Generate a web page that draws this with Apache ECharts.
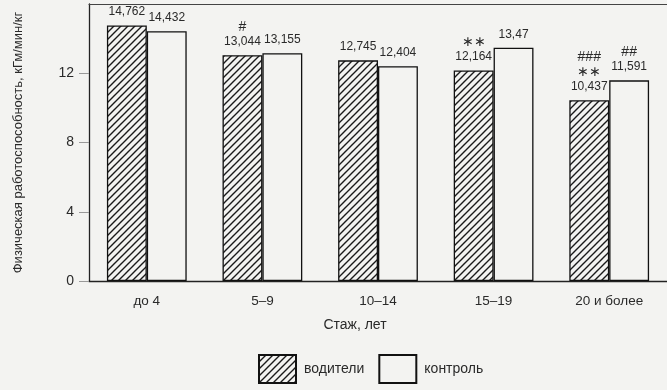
<!DOCTYPE html>
<html><head><meta charset="utf-8">
<script src="https://cdn.jsdelivr.net/npm/echarts@6/dist/echarts.min.js"></script>
<style>html,body{margin:0;padding:0;background:#f3f3f1}#c{width:667px;height:390px}</style>
</head><body><div id="c"></div>
<script>
const categories = ['до 4', '5–9', '10–14', '15–19', '20 и более'];
const drivers = [14.762, 13.044, 12.745, 12.164, 10.437];
const control = [14.432, 13.155, 12.404, 13.47, 11.591];
const driverMarks = [[], ['#'], [], ['∗∗'], ['###', '∗∗']];
const controlMarks = [[], [], [], [], ['##']];
const yTicks = [0, 4, 8, 12, 16];
const seriesNames = ['водители', 'контроль'];

const BG = '#f3f3f1';
const FONT = '"Liberation Sans Narrow", "Arial Narrow", "Liberation Sans", sans-serif';

function hatch() {
  const s = 7;
  const c = document.createElement('canvas');
  c.width = s; c.height = s;
  const g = c.getContext('2d');
  g.fillStyle = BG; g.fillRect(0, 0, s, s);
  g.strokeStyle = '#1a1a1a'; g.lineWidth = 1.4;
  g.beginPath();
  g.moveTo(-1, s + 1); g.lineTo(s + 1, -1);
  g.moveTo(-1 - s, s + 1); g.lineTo(1, -1);
  g.moveTo(s - 1, s + 1); g.lineTo(2 * s + 1, -1);
  g.stroke();
  return c;
}

function fmt(v) { return String(v).replace('.', ','); }
function labelText(marks, v) {
  return marks.map(m => '{m|' + m + '}').concat([fmt(v)]).join('\n');
}

const chart = echarts.init(document.getElementById('c'), null, {renderer: 'canvas'});
const labelCommon = {
  show: true, position: 'top', distance: 6, color: '#2a2a2a',
  fontFamily: FONT, fontSize: 12, lineHeight: 15, align: 'center',
  rich: {m: {fontFamily: FONT, fontSize: 14, lineHeight: 15, color: '#2a2a2a'}}
};
chart.setOption({
  backgroundColor: BG,
  animation: false,
  grid: {left: 89, right: 0, top: 4, bottom: 109},
  legend: {
    left: 253, top: 349, itemWidth: 37, itemHeight: 28, itemGap: 14, icon: 'rect',
    textStyle: {fontFamily: FONT, fontSize: 14, color: '#2a2a2a', padding: [0, 0, 0, 3]},
    data: seriesNames
  },
  xAxis: [{
    type: 'category', data: categories,
    axisLine: {lineStyle: {color: '#222', width: 1.3}},
    axisTick: {show: false},
    axisLabel: {fontFamily: FONT, fontSize: 13.5, color: '#2a2a2a', margin: 13},
    name: 'Стаж, лет', nameLocation: 'middle', nameGap: 37,
    nameTextStyle: {fontFamily: FONT, fontSize: 14, color: '#2a2a2a', padding: [0, 46, 0, 0]}
  }, {
    type: 'category', data: categories, position: 'top',
    axisLine: {show: true, lineStyle: {color: '#444', width: 1.2}},
    axisTick: {show: false}, axisLabel: {show: false}
  }],
  yAxis: {
    type: 'value', min: yTicks[0], max: yTicks[yTicks.length - 1], interval: 4,
    axisLine: {show: true, lineStyle: {color: '#222', width: 1.3}},
    axisTick: {show: true, length: 10, lineStyle: {color: '#999'}},
    splitLine: {show: false},
    axisLabel: {fontFamily: FONT, fontSize: 14, color: '#2a2a2a', margin: 15, showMaxLabel: false},
    name: 'Физическая работоспособность, кГм/мин/кг', nameLocation: 'middle', nameGap: 64,
    nameTextStyle: {fontFamily: FONT, fontSize: 13, color: '#2a2a2a'}
  },
  series: [{
    name: seriesNames[0], type: 'bar', data: drivers, barGap: '0%', barCategoryGap: '31%',
    itemStyle: {color: {image: hatch(), repeat: 'repeat'}, borderColor: '#111', borderWidth: 1.3},
    label: Object.assign({}, labelCommon, {
      formatter: p => labelText(driverMarks[p.dataIndex], p.value)
    })
  }, {
    name: seriesNames[1], type: 'bar', data: control,
    itemStyle: {color: BG, borderColor: '#111', borderWidth: 1.3},
    label: Object.assign({}, labelCommon, {
      formatter: p => labelText(controlMarks[p.dataIndex], p.value)
    })
  }]
});
</script></body></html>
